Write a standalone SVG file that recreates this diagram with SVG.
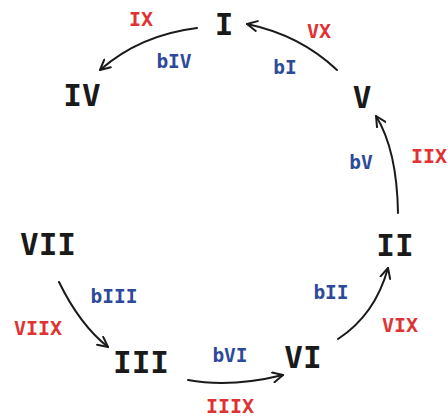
<svg xmlns="http://www.w3.org/2000/svg" width="448" height="418" viewBox="0 0 448 418">
<style>
.n{font-family:"DejaVu Sans Mono","Liberation Mono",monospace;font-weight:bold;font-size:31px;fill:#1a1a1a;text-anchor:middle;dominant-baseline:central}
.r{font-family:"DejaVu Sans Mono","Liberation Mono",monospace;font-weight:bold;font-size:20px;fill:#e03232;text-anchor:middle;dominant-baseline:central}
.b{font-family:"DejaVu Sans Mono","Liberation Mono",monospace;font-weight:bold;font-size:19.5px;fill:#2d4a9a;text-anchor:middle;dominant-baseline:central}
.c{fill:none;stroke:#1a1a1a;stroke-width:2;stroke-linecap:round}
</style>
<defs>
<marker id="ah" viewBox="0 0 12 12" refX="11" refY="6" markerWidth="12" markerHeight="12" markerUnits="userSpaceOnUse" orient="auto">
<path d="M1,1 L11,6 L1,11" fill="none" stroke="#1a1a1a" stroke-width="2" stroke-linecap="round" stroke-linejoin="round"/>
</marker>
</defs>
<rect width="448" height="418" fill="#fff"/>
<g id="connectors">
<path class="c" d="M197,28 Q140,35 100,70" marker-end="url(#ah)"/>
<path class="c" d="M337,70 Q300,35 247,24" marker-end="url(#ah)"/>
<path class="c" d="M398,213 Q397,150 376,116" marker-end="url(#ah)"/>
<path class="c" d="M338,339 Q375,315 388,268" marker-end="url(#ah)"/>
<path class="c" d="M188,380 Q230,388 283,375" marker-end="url(#ah)"/>
<path class="c" d="M59,282 Q80,325 108,347" marker-end="url(#ah)"/>
</g>
<g id="node-I"><text class="n" x="224" y="24">I</text></g>
<g id="node-IV"><text class="n" x="82" y="95">IV</text></g>
<g id="node-V"><text class="n" x="362" y="97">V</text></g>
<g id="node-II"><text class="n" x="395" y="245">II</text></g>
<g id="node-VII"><text class="n" x="48" y="244">VII</text></g>
<g id="node-III"><text class="n" x="141" y="362">III</text></g>
<g id="node-VI"><text class="n" x="303" y="357">VI</text></g>
<g id="labels">
<text class="r" x="141" y="19">IX</text>
<text class="r" x="319" y="31">VX</text>
<text class="r" x="429" y="156">IIX</text>
<text class="r" x="38" y="328">VIIX</text>
<text class="r" x="400" y="325">VIX</text>
<text class="r" x="230" y="406">IIIX</text>
<text class="b" x="174" y="61">bIV</text>
<text class="b" x="285" y="67">bI</text>
<text class="b" x="361" y="162">bV</text>
<text class="b" x="114" y="296">bIII</text>
<text class="b" x="331" y="292">bII</text>
<text class="b" x="230" y="355">bVI</text>
</g>
</svg>
